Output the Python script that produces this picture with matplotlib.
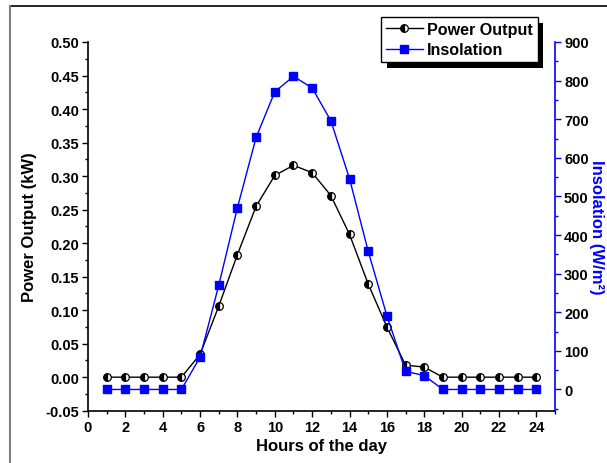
import matplotlib
matplotlib.use("Agg")
import matplotlib.pyplot as plt
from matplotlib.ticker import MultipleLocator, FormatStrFormatter
from matplotlib.lines import Line2D
from matplotlib.patches import Rectangle

hours = list(range(1, 25))
power_output = [0, 0, 0, 0, 0, 0.034, 0.106, 0.183, 0.255, 0.301, 0.316, 0.305,
                0.271, 0.213, 0.139, 0.075, 0.018, 0.015, 0, 0, 0, 0, 0, 0]
insolation = [0, 0, 0, 0, 0, 84, 270, 471, 653, 771, 811, 781,
              696, 546, 358, 191, 47, 36, 0, 0, 0, 0, 0, 0]

plt.rcParams['font.family'] = ['Liberation Sans', 'DejaVu Sans']
plt.rcParams['font.weight'] = 'bold'

W, H = 607, 464
fig = plt.figure(figsize=(W / 100, H / 100), dpi=100)
ax = fig.add_axes([88 / W, 1 - 411.7 / H, (555 - 88) / W, (411.7 - 43) / H])
ax2 = ax.twinx()

BLUE = '#0000ff'

l1, = ax.plot(hours, power_output, color='black', lw=1.0, marker='o', ms=5.5,
              fillstyle='left', markerfacecolor='black', markerfacecoloralt='white',
              markeredgecolor='black', markeredgewidth=0.9, label='Power Output', zorder=3)
l2, = ax2.plot(hours, insolation, color=BLUE, lw=1.0, marker='s', ms=5.2,
               markerfacecolor=BLUE, markeredgecolor=BLUE, label='Insolation', zorder=3)

ax.set_xlim(0, 25)
ax.set_ylim(-0.05, 0.50)
ax2.set_ylim(-55, 900)

ax.xaxis.set_major_locator(MultipleLocator(2))
ax.xaxis.set_minor_locator(MultipleLocator(1))
ax.yaxis.set_major_locator(MultipleLocator(0.05))
ax.yaxis.set_minor_locator(MultipleLocator(0.025))
ax.yaxis.set_major_formatter(FormatStrFormatter('%.2f'))
ax2.yaxis.set_major_locator(MultipleLocator(100))
ax2.yaxis.set_minor_locator(MultipleLocator(50))

for a in (ax, ax2):
    a.spines['top'].set_visible(False)
ax.spines['right'].set_visible(False)
ax2.spines['left'].set_visible(False)
ax2.spines['bottom'].set_visible(False)
ax2.spines['right'].set_color(BLUE)
ax2.spines['right'].set_linewidth(1.2)
ax.spines['left'].set_linewidth(1.2)
ax.spines['bottom'].set_linewidth(1.2)

ax.tick_params(axis='both', which='major', direction='out', length=4.5, width=1.0,
               labelsize=10.5, pad=2)
ax.tick_params(axis='both', which='minor', direction='out', length=2.5, width=1.0)
ax2.tick_params(axis='y', which='major', direction='out', length=4.5, width=1.0,
                color=BLUE, labelsize=10.5, labelcolor='black', pad=2)
ax2.tick_params(axis='y', which='minor', direction='out', length=2.5, width=1.0, color=BLUE)

for lab in ax.get_xticklabels() + ax.get_yticklabels() + ax2.get_yticklabels():
    lab.set_fontweight('bold')

ax.set_xlabel('Hours of the day', fontsize=12, fontweight='bold', labelpad=3)
ax.set_ylabel('Power Output (kW)', fontsize=12, fontweight='bold', labelpad=6)
ax2.set_ylabel('Insolation (W/m\u00b2)', fontsize=12, fontweight='bold', color=BLUE,
               rotation=-90, labelpad=11)

leg = fig.legend(handles=[l1, l2], loc='upper left',
                 bbox_to_anchor=(381 / W, 1 - 18 / H), bbox_transform=fig.transFigure,
                 borderaxespad=0, fancybox=False, frameon=True, edgecolor='black',
                 framealpha=1, prop={'weight': 'bold', 'size': 11.6},
                 handlelength=2.3, handletextpad=0.25, borderpad=0.3,
                 labelspacing=0.35)
leg.get_frame().set_linewidth(1.0)
leg.set_zorder(10)

# frame lines around picture
fig.add_artist(Line2D([10 / W, 1], [1 - 7 / H, 1 - 7 / H], transform=fig.transFigure,
                      color='black', lw=1.2))
fig.add_artist(Line2D([10 / W, 10 / W], [0, 1 - 7 / H], transform=fig.transFigure,
                      color='#808080', lw=1.5))

fig.canvas.draw()
bb = leg.get_window_extent()
shadow = Rectangle(((bb.x0 + 5.5) / W, (bb.y0 - 6) / H), bb.width / W, bb.height / H,
                   transform=fig.transFigure, facecolor='black', edgecolor='none', zorder=9)
fig.add_artist(shadow)

fig.savefig('out.png', dpi=100)
